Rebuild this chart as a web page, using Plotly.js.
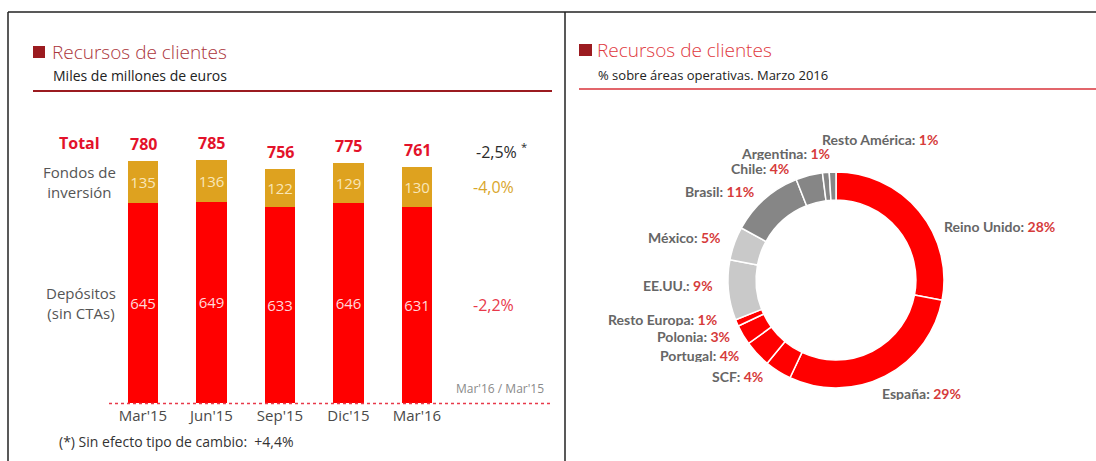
<!DOCTYPE html>
<html>
<head>
<meta charset="utf-8">
<script src="https://cdn.plot.ly/plotly-3.0.1.min.js"></script>
<style>
html,body{margin:0;padding:0;background:#fff;}
#chart{width:1096px;height:461px;}
</style>
</head>
<body>
<div id="chart"></div>
<script>
// ---- Data ----
const periods = ["Mar'15", "Jun'15", "Sep'15", "Dic'15", "Mar'16"];
const fondos = [135, 136, 122, 129, 130];
const depositos = [645, 649, 633, 646, 631];
const totals = [780, 785, 756, 775, 761];
const varTotal = "-2,5%";
const varFondos = "-4,0%";
const varDepositos = "-2,2%";
const footnote = "(*) Sin efecto tipo de cambio:  +4,4%";

const regions = ["Reino Unido", "España", "SCF", "Portugal", "Polonia", "Resto Europa",
                 "EE.UU.", "México", "Brasil", "Chile", "Argentina", "Resto América"];
const shares = [28, 29, 4, 4, 3, 1, 9, 5, 11, 4, 1, 1];

// ---- Layout helpers (styles / positions) ----
const W = 1096, H = 461;
const px = x => x / W;
const py = y => 1 - y / H;

const RED = "#ff0000", GOLD = "#dea21f", LGRAY = "#c9c9c9", DGRAY = "#868686";
const sliceColors = [RED, RED, RED, RED, RED, RED, LGRAY, LGRAY, DGRAY, DGRAY, DGRAY, DGRAY];
// label anchor positions in pixels: [x, y, side]
const labelPos = [
  [942, 226, "left"], [880, 393, "left"], [765, 376, "right"], [741, 355, "right"],
  [732, 336, "right"], [719, 319, "right"], [715, 285, "right"], [723, 237, "right"],
  [756, 191, "right"], [791, 168, "right"], [832, 153, "right"], [820, 139, "left"]
];

const FONT = "Open Sans, Lato, sans-serif";
const LFONT = "Lato, Open Sans, sans-serif";

const traces = [
  {
    type: "bar", x: periods, y: depositos, name: "Depósitos",
    marker: {color: RED},
    text: depositos.map(String), textposition: "inside", insidetextanchor: "middle",
    textangle: 0, constraintext: "none",
    textfont: {family: FONT, size: 15, color: "#ffd9d9"},
    hoverinfo: "skip", xaxis: "x", yaxis: "y"
  },
  {
    type: "bar", x: periods, y: fondos, name: "Fondos de inversión",
    marker: {color: GOLD},
    text: fondos.map(String), textposition: "inside", insidetextanchor: "middle",
    textangle: 0, constraintext: "none",
    textfont: {family: FONT, size: 15, color: "#f9e6b8"},
    hoverinfo: "skip", xaxis: "x", yaxis: "y"
  },
  {
    type: "pie", values: shares, labels: regions, sort: false, direction: "clockwise",
    rotation: 0, hole: 0.74, textinfo: "none", hoverinfo: "skip",
    marker: {colors: sliceColors, line: {color: "#ffffff", width: 1.5}},
    domain: {x: [px(728), px(944)], y: [py(388), py(172)]}
  }
];

const annotations = [];
const ann = o => annotations.push(Object.assign({showarrow: false, xanchor: "center", yanchor: "middle"}, o));
// Total labels above bars
periods.forEach((p, i) => {
  ann({x: p, y: totals[i], xref: "x", yref: "y", text: "<b>" + totals[i] + "</b>",
    yanchor: "bottom", yshift: 4,
    font: {family: FONT, size: 16, color: "#e3122a"}});
});
// Left side row labels
ann({x: px(79), y: totals[0], xref: "paper", yref: "y", text: "<b>Total</b>",
  yanchor: "bottom", yshift: 5, font: {family: FONT, size: 16, color: "#e3122a"}});
ann({x: px(79), y: depositos[0] + fondos[0] / 2, xref: "paper", yref: "y",
  text: "Fondos de<br>inversión", align: "center",
  font: {family: FONT, size: 15, color: "#555555"}});
ann({x: px(81), y: depositos[0] / 2, xref: "paper", yref: "y",
  text: "Depósitos<br>(sin CTAs)", align: "center",
  font: {family: FONT, size: 15, color: "#555555"}});
// Right side variations
const last = periods.length - 1;
ann({x: px(474), y: totals[last], xref: "paper", yref: "y", xanchor: "left",
  text: varTotal + " <sup>*</sup>", yanchor: "bottom", yshift: 2,
  font: {family: FONT, size: 16, color: "#2a2a2a"}});
ann({x: px(471), y: depositos[last] + fondos[last] / 2, xref: "paper", yref: "y", xanchor: "left",
  text: varFondos, font: {family: FONT, size: 16, color: "#d9a62b"}});
ann({x: px(471), y: depositos[last] / 2, xref: "paper", yref: "y", xanchor: "left",
  text: varDepositos, font: {family: FONT, size: 16, color: "#e8394a"}});
ann({x: px(546), y: py(388), xref: "paper", yref: "paper", xanchor: "right",
  text: "Mar'16 / Mar'15", font: {family: FONT, size: 12, color: "#8a8a8a"}});
ann({x: px(57), y: py(441), xref: "paper", yref: "paper", xanchor: "left",
  text: footnote, font: {family: FONT, size: 14, color: "#333333"}});
// Titles
ann({x: px(50), y: py(52), xref: "paper", yref: "paper", xanchor: "left",
  text: "Recursos de clientes",
  font: {family: FONT, size: 19, color: "#ab353b", weight: 300}});
ann({x: px(51), y: py(76), xref: "paper", yref: "paper", xanchor: "left",
  text: "Miles de millones de euros",
  font: {family: FONT, size: 14, color: "#222222"}});
ann({x: px(595), y: py(50), xref: "paper", yref: "paper", xanchor: "left",
  text: "Recursos de clientes",
  font: {family: FONT, size: 19, color: "#e0383e", weight: 300}});
ann({x: px(596), y: py(75), xref: "paper", yref: "paper", xanchor: "left",
  text: "% sobre áreas operativas. Marzo 2016",
  font: {family: FONT, size: 13, color: "#222222"}});
// Pie labels
regions.forEach((r, i) => {
  const [lx, ly, side] = labelPos[i];
  ann({x: px(lx), y: py(ly), xref: "paper", yref: "paper", xanchor: side, height: 14,
    text: "<b><span style='color:#666666'>" + r + ":</span> <span style='color:#d63b3b'>" + shares[i] + "%</span></b>",
    font: {family: LFONT, size: 14, color: "#666666"}});
});

const shapes = [
  // frame
  {type: "line", xref: "paper", yref: "paper", x0: px(8), x1: px(1096), y0: py(12), y1: py(12), line: {color: "#222", width: 1.5}},
  {type: "line", xref: "paper", yref: "paper", x0: px(8), x1: px(8), y0: py(12), y1: py(461), line: {color: "#222", width: 1.5}},
  {type: "line", xref: "paper", yref: "paper", x0: px(565), x1: px(565), y0: py(12), y1: py(461), line: {color: "#222", width: 1.5}},
  // left header
  {type: "rect", xref: "paper", yref: "paper", x0: px(33), x1: px(45), y0: py(58), y1: py(46), fillcolor: "#9b1b20", line: {width: 0}},
  {type: "line", xref: "paper", yref: "paper", x0: px(33), x1: px(552), y0: py(91), y1: py(91), line: {color: "#9b1b20", width: 2}},
  // right header
  {type: "rect", xref: "paper", yref: "paper", x0: px(579), x1: px(592), y0: py(56), y1: py(44), fillcolor: "#9b1b20", line: {width: 0}},
  {type: "line", xref: "paper", yref: "paper", x0: px(579), x1: px(1096), y0: py(89), y1: py(89), line: {color: "#d8323a", width: 1.5}},
  // dotted baseline
  {type: "line", xref: "paper", yref: "paper", x0: px(109), x1: px(553), y0: py(403.5), y1: py(403.5), line: {color: "#e8394a", width: 1.5, dash: "dot"}}
];

const layout = {
  width: W, height: H,
  margin: {l: 0, r: 0, t: 0, b: 0},
  paper_bgcolor: "#ffffff", plot_bgcolor: "rgba(0,0,0,0)",
  showlegend: false, barmode: "stack", bargap: 0.555,
  xaxis: {domain: [px(108.75), px(451.25)], type: "category", range: [-0.5, 4.5],
    showgrid: false, zeroline: false, showline: false, ticks: "", ticklabelstandoff: 2,
    tickfont: {family: FONT, size: 15, color: "#4a4a4a"}, fixedrange: true},
  yaxis: {domain: [py(403), py(155)], range: [0, 800], visible: false, showgrid: false, zeroline: false, fixedrange: true},
  annotations: annotations,
  shapes: shapes
};

Plotly.newPlot("chart", traces, layout, {displayModeBar: false, staticPlot: true});
</script>
</body>
</html>
